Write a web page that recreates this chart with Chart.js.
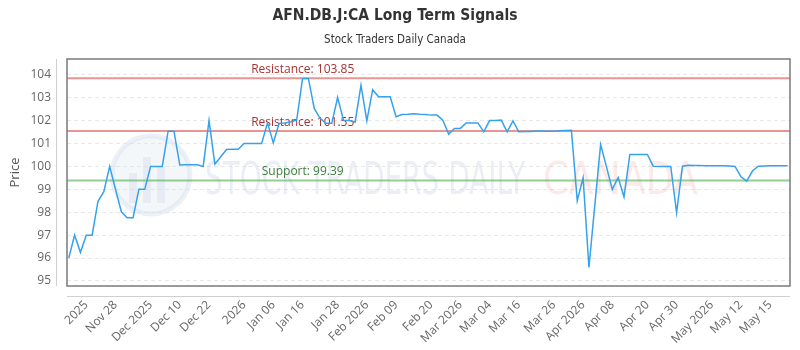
<!DOCTYPE html>
<html><head><meta charset="utf-8">
<script src="https://cdn.jsdelivr.net/npm/chart.js@4/dist/chart.umd.min.js"></script>
<style>html,body{margin:0;padding:0;background:#fff}</style>
</head><body>
<canvas id="c" width="800" height="350"></canvas>
<script>
const prices = [
  96.0, 97.0, 96.25, 97.0, 97.0, 98.48, 98.9, 100.0, 99.0, 98.02,
  97.76, 97.76, 99.0, 99.0, 100.0, 100.0, 100.0, 101.54, 101.54, 100.06,
  100.07, 100.07, 100.07, 100.0, 102.0, 100.1, 100.42, 100.74, 100.75, 100.75,
  101.0, 101.0, 101.0, 101.0, 101.9, 101.03, 101.88, 101.9, 101.95, 102.02,
  103.84, 103.84, 102.53, 102.1, 101.88, 101.88, 103.01, 102.02, 102.0, 101.94,
  103.55, 101.99, 103.35, 103.04, 103.04, 103.04, 102.17, 102.27, 102.28, 102.3,
  102.28, 102.27, 102.24, 102.24, 102.02, 101.41, 101.66, 101.66, 101.9, 101.9,
  101.9, 101.51, 102.0, 102.0, 102.02, 101.51, 101.99, 101.51, 101.52, 101.53,
  101.55, 101.55, 101.54, 101.54, 101.56, 101.57, 101.58, 98.5, 99.5, 95.59,
  98.3, 100.96, 99.98, 99.0, 99.52, 98.67, 100.52, 100.52, 100.52, 100.52,
  100.01, 100.0, 100.0, 100.0, 97.99, 100.01, 100.05, 100.04, 100.04, 100.03,
  100.03, 100.03, 100.03, 100.02, 100.0, 99.55, 99.36, 99.81, 100.01, 100.02,
  100.03, 100.03, 100.03, 100.03
];
const tickIndex = [3, 8, 14, 19, 24, 30, 35, 40, 46, 51, 56, 62, 67, 72, 77, 83, 88, 93, 99, 104, 110, 115, 120];
const tickLabels = ['2025','Nov 28','Dec 2025','Dec 10','Dec 22','2026','Jan 06','Jan 16','Jan 28','Feb 2026','Feb 09','Feb 20','Mar 2026','Mar 04','Mar 16','Mar 26','Apr 2026','Apr 08','Apr 20','Apr 30','May 2026','May 12','May 15'];
const yTicks = [95, 96, 97, 98, 99, 100, 101, 102, 103, 104];
const resistanceLevels = [103.85, 101.55];
const supportLevels = [99.39];

const FONT = "'Open Sans', 'Noto Sans', sans-serif";
const NARROW = "'Liberation Sans Narrow', 'DejaVu Sans Condensed', 'Roboto', sans-serif";

const decorPlugin = {
  id: 'decor',
  beforeDatasetsDraw(chart) {
    const ctx = chart.ctx, a = chart.chartArea;
    const y = chart.scales.y;
    ctx.save();
    // watermark logo
    const cx = a.left + 84, cy = a.top + 116, r = 39;
    ctx.beginPath(); ctx.arc(cx, cy, r, 0, Math.PI * 2);
    ctx.fillStyle = 'rgba(220,228,240,0.3)'; ctx.fill();
    ctx.lineWidth = 5; ctx.strokeStyle = 'rgba(210,219,234,0.4)'; ctx.stroke();
    ctx.fillStyle = 'rgba(205,216,232,0.32)';
    ctx.fillRect(cx - 22, cy - 2, 8, 30);
    ctx.fillRect(cx - 8, cy - 18, 8, 46);
    ctx.fillRect(cx + 6, cy - 8, 8, 36);
    // watermark text
    const drawFit = (txt, x0, x1, base, color) => {
      ctx.font = "44px " + NARROW;
      const w = ctx.measureText(txt).width;
      ctx.save();
      ctx.translate(x0, base);
      ctx.scale((x1 - x0) / w, 1);
      ctx.fillStyle = color;
      ctx.textBaseline = 'alphabetic';
      ctx.textAlign = 'left';
      ctx.fillText(txt, 0, 0);
      ctx.restore();
    };
    drawFit('STOCK TRADERS DAILY', 205, 525, 194, 'rgba(195,206,224,0.33)');
    drawFit('CANADA', 543, 698, 194, 'rgba(240,130,130,0.17)');
    // levels
    const lx = a.left + (a.right - a.left) * 0.326;
    const drawLevel = (v, lineColor, textColor, label) => {
      const py = y.getPixelForValue(v);
      ctx.beginPath(); ctx.moveTo(a.left, py); ctx.lineTo(a.right, py);
      ctx.lineWidth = 2; ctx.strokeStyle = lineColor; ctx.stroke();
      ctx.font = "12px " + FONT;
      ctx.fillStyle = textColor; ctx.textAlign = 'center'; ctx.textBaseline = 'middle';
      ctx.fillText(label, lx, py - 8.5);
    };
    resistanceLevels.forEach(v => drawLevel(v, 'rgba(225,90,90,0.65)', '#a83232', 'Resistance: ' + v.toFixed(2)));
    supportLevels.forEach(v => drawLevel(v, 'rgba(90,180,90,0.65)', '#3d7d3d', 'Support: ' + v.toFixed(2)));
    ctx.restore();
  },
  afterDatasetsDraw(chart) {
    const ctx = chart.ctx, a = chart.chartArea;
    ctx.save();
    ctx.lineWidth = 1.5; ctx.strokeStyle = '#7a7a7a';
    ctx.strokeRect(a.left, a.top, a.right - a.left, a.bottom - a.top);
    ctx.lineWidth = 1; ctx.strokeStyle = '#cfcfcf';
    ctx.beginPath();
    ctx.moveTo(a.left - 10.5, a.top); ctx.lineTo(a.left - 10.5, a.bottom);
    ctx.moveTo(a.left, a.bottom + 10.5); ctx.lineTo(a.right, a.bottom + 10.5);
    ctx.stroke();
    ctx.restore();
  }
};

new Chart(document.getElementById('c'), {
  type: 'line',
  data: {
    datasets: [{
      data: prices.map((v, i) => ({ x: i, y: v })),
      borderColor: 'rgb(54,162,235)',
      backgroundColor: 'rgb(54,162,235)',
      borderWidth: 1.5,
      pointRadius: 0,
      tension: 0,
      fill: false
    }]
  },
  options: {
    responsive: false,
    animation: false,
    devicePixelRatio: 1,
    layout: { padding: { left: 0, right: 10, top: 0, bottom: 0 } },
    plugins: {
      legend: { display: false },
      tooltip: { enabled: false },
      title: {
        display: true,
        text: 'AFN.DB.J:CA Long Term Signals',
        color: '#333',
        font: { family: NARROW, size: 15.5, weight: 'bold' },
        padding: { top: 6.5, bottom: 3 }
      },
      subtitle: {
        display: true,
        text: 'Stock Traders Daily Canada',
        color: '#333',
        font: { family: NARROW, size: 11.5 },
        padding: { top: 5, bottom: 12.1 }
      }
    },
    scales: {
      x: {
        type: 'linear',
        min: -0.3,
        max: 123.4,
        afterBuildTicks: s => { s.ticks = tickIndex.map(v => ({ value: v })); },
        afterFit: s => { s.height = 64; },
        grid: { display: false, drawTicks: false },
        border: { display: false },
        ticks: {
          autoSkip: false,
          maxRotation: 45,
          minRotation: 45,
          padding: 12,
          color: '#666',
          font: { family: FONT, size: 12 },
          callback: (v, i) => tickLabels[i]
        }
      },
      y: {
        min: 94.78,
        max: 104.69,
        afterBuildTicks: s => { s.ticks = yTicks.map(v => ({ value: v })); },
        afterFit: s => { s.width = 67; },
        grid: { color: 'rgba(0,0,0,0.09)', drawTicks: false },
        border: { display: false, dash: [4, 3] },
        title: { display: true, text: 'Price', color: '#555', font: { family: FONT, size: 13 }, padding: { top: 7, bottom: 0 } },
        ticks: { padding: 16, color: '#666', font: { family: FONT, size: 12 } }
      }
    }
  },
  plugins: [decorPlugin]
});
</script>
</body></html>
